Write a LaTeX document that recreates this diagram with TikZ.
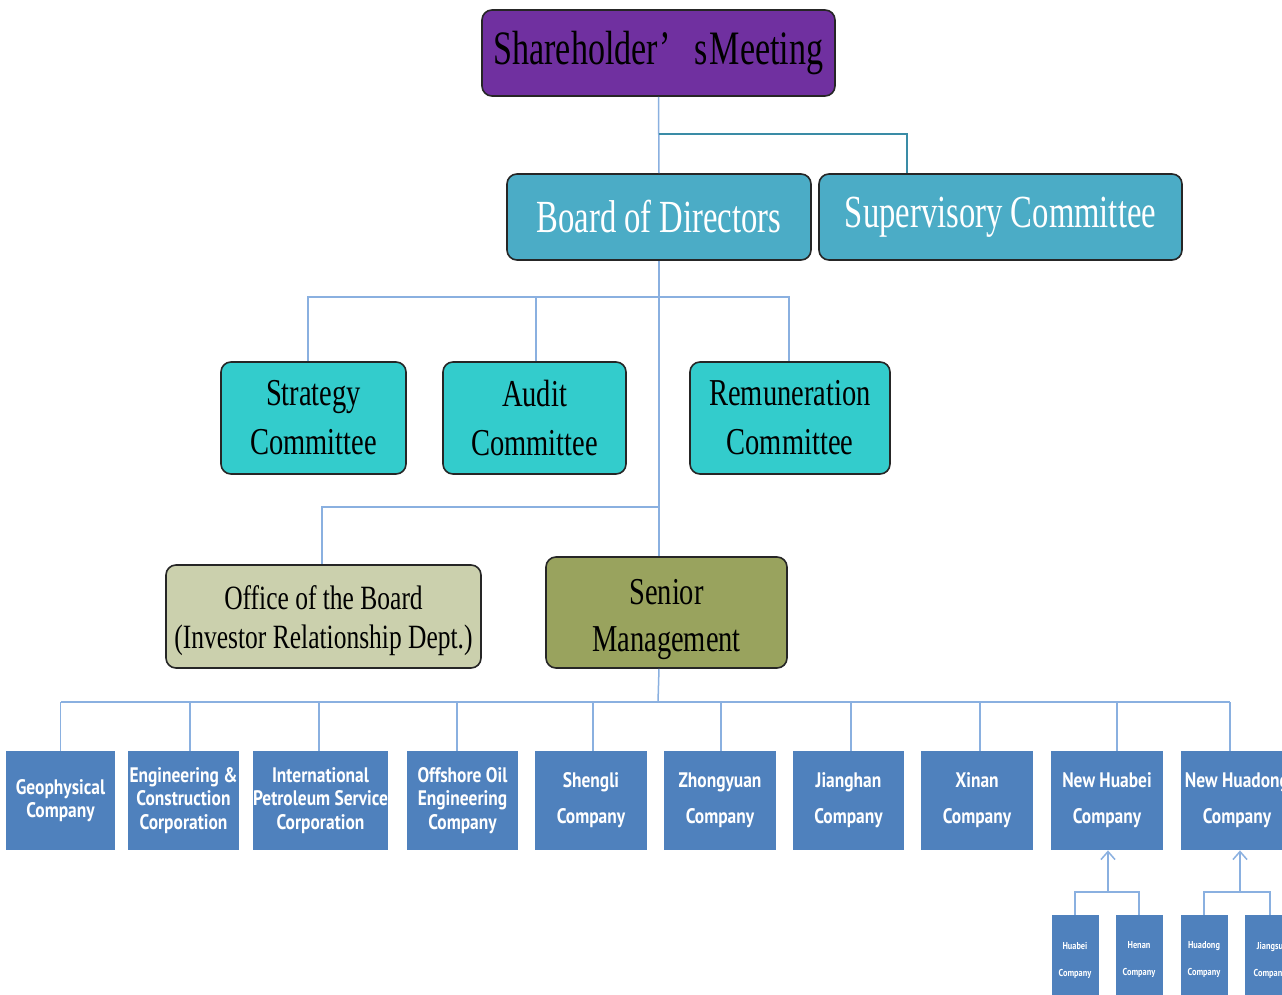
\documentclass[tikz,border=0pt]{standalone}
\usepackage{fontspec}
\setmainfont{Liberation Serif}
\newfontfamily\serifA[FakeStretch=0.71]{Liberation Serif}
\newfontfamily\serifB[FakeStretch=0.75]{Liberation Serif}
\newfontfamily\sansc[FakeStretch=0.83]{PT Sans}
\usetikzlibrary{arrows.meta,calc}
\definecolor{purp}{HTML}{7030A0}
\definecolor{boardc}{HTML}{4BACC6}
\definecolor{commc}{HTML}{33CCCC}
\definecolor{officec}{HTML}{CBD0AD}
\definecolor{seniorc}{HTML}{99A35E}
\definecolor{cobalt}{HTML}{4F81BD}
\definecolor{lineblue}{HTML}{8AB0E0}
\definecolor{lineteal}{HTML}{3A8CA6}
\tikzset{
  rbox/.style={draw=black!85, line width=0.8pt, rounded corners=5pt, align=center, inner sep=0pt},
  commbox/.style={rbox, fill=commc, minimum height=56pt, font=\serifB\fontsize{19}{24.5}\selectfont},
  cbox/.style={fill=cobalt, align=center, inner sep=0pt, text=white, minimum height=49.5pt,
               font=\sansc\bfseries\fontsize{10.5}{11.6}\selectfont},
  sbox/.style={fill=cobalt, align=center, inner sep=0pt, text=white, minimum height=45pt, minimum width=23.5pt,
               font=\sansc\bfseries\fontsize{5}{6}\selectfont},
  conn/.style={draw=lineblue, line width=0.75pt},
  upar/.style={conn, -{Straight Barb[length=4pt,width=7pt,line width=0.75pt]}},
}
\begin{document}
\begin{tikzpicture}[x=0.5pt,y=-0.5pt]
\useasboundingbox (0,0) rectangle (1282,995);
\clip (0,0) rectangle (1282,995);
\fill[white] (0,0) rectangle (1282,995);

% top levels
\node[rbox, fill=purp, minimum width=176.5pt, minimum height=43pt, text=black,
      font=\serifA\fontsize{24}{28}\selectfont] (share) at (658.5,53)
      {Shareholder’\hspace{12pt}s\hspace{1pt}Meeting};
\node[rbox, fill=boardc, minimum width=152pt, minimum height=43pt, text=white,
      font=\serifA\fontsize{23}{28}\selectfont] (board) at (659,217) {Board of Directors};
\node[rbox, fill=boardc, minimum width=181.5pt, minimum height=43pt, text=white,
      font=\serifA\fontsize{23}{28}\selectfont] (sup) at (1000.5,217) {Supervisory Committee};

% committees
\node[commbox, minimum width=92.5pt] (strat) at (313.5,418) {Strategy\\Committee};
\node[commbox, minimum width=91.5pt] (audit) at (534.5,418) {Audit\\Committee};
\node[commbox, minimum width=100pt] (remun) at (790,418) {Remuneration\\Committee};

% office / senior
\node[rbox, fill=officec, minimum width=157.5pt, minimum height=51.5pt,
      font=\serifB\fontsize{17}{19.5}\selectfont] (office) at (323.5,616.5)
      {\rule{0pt}{16pt}Office of the Board\\(Investor Relationship Dept.)};
\node[rbox, fill=seniorc, minimum width=120.5pt, minimum height=55.5pt,
      font=\serifB\fontsize{19}{23.5}\selectfont] (senior) at (666.5,612.5)
      {\rule{0pt}{20pt}Senior\\Management};

% companies
\node[cbox, minimum width=54.5pt] (geo) at (60.5,800.5) {Geophysical\\Company};
\node[cbox, minimum width=55.5pt] (eng) at (183.5,800.5) {Engineering \&\\Construction\\Corporation};
\node[cbox, minimum width=67.5pt] (intl) at (320.5,800.5) {International\\Petroleum Service\\Corporation};
\node[cbox, minimum width=55.5pt] (off) at (462.5,800.5) {Offshore Oil\\Engineering\\Company};
\node[cbox, minimum width=56pt] (sheng) at (591,800.5) {Shengli\\[6.5pt]Company};
\node[cbox, minimum width=56pt] (zhong) at (720,800.5) {Zhongyuan\\[6.5pt]Company};
\node[cbox, minimum width=55.5pt] (jiang) at (848.5,800.5) {Jianghan\\[6.5pt]Company};
\node[cbox, minimum width=56pt] (xinan) at (977,800.5) {Xinan\\[6.5pt]Company};
\node[cbox, minimum width=56pt] (nhb) at (1107,800.5) {New Huabei\\[6.5pt]Company};
\node[cbox, minimum width=56pt] (nhd) at (1237,800.5) {New Huadong\\[6.5pt]Company};

% sub companies
\node[sbox] (hubei) at (1075,960) {Huabei\\[7.5pt]Company};
\node[sbox] (henan) at (1139,960) {Henan\\[7.5pt]Company};
\node[sbox] (huad) at (1204,960) {Huadong\\[7.5pt]Company};
\node[sbox, minimum width=25pt] (jsu) at (1270,960) {Jiangsu\\[7.5pt]Company};

% connectors
\coordinate (j1) at (658.5,134);
\coordinate (cbar) at (659,297);
\coordinate (obar) at (658,507);
\coordinate (bbar) at (658,702);
\coordinate (hj) at (1108,892);
\coordinate (dj) at (1240,892);

\draw[conn] (share.south) -- (board.north);
\draw[draw=lineteal, line width=0.75pt] (j1) -| ($(sup.north west)+(89,0)$);
\draw[conn] (board.south) -- (board.south |- senior.north);
\draw[conn] ($(strat.north)+(-5.5,0)$) |- ($(remun.north |- cbar)+(-1,0)$) -- ($(remun.north)+(-1,0)$);
\draw[conn] ($(audit.north)+(1.5,0)$) -- ($(audit.north |- cbar)+(1.5,0)$);
\draw[conn] ($(office.north)+(-1.5,0)$) |- (obar);
\draw[conn] (board.south |- senior.south) -- (bbar);
\draw[conn] (geo.north |- bbar) -- ($(nhd.north |- bbar)+(-7,0)$);
\foreach \n/\d in {geo/0,eng/6.5,intl/-1.5,off/-5.5,sheng/2,zhong/1,jiang/2.5,xinan/3,nhb/10,nhd/-7}
  \draw[conn] ($(\n.north)+(\d,0)$) -- ($(\n.north |- bbar)+(\d,0)$);

\draw[conn] (hubei.north) |- (hj) -| (henan.north);
\draw[upar] (hj) -- (hj |- nhb.south);
\draw[conn] (huad.north) |- (dj) -| (jsu.north);
\draw[upar] (dj) -- (dj |- nhd.south);
\end{tikzpicture}
\end{document}
